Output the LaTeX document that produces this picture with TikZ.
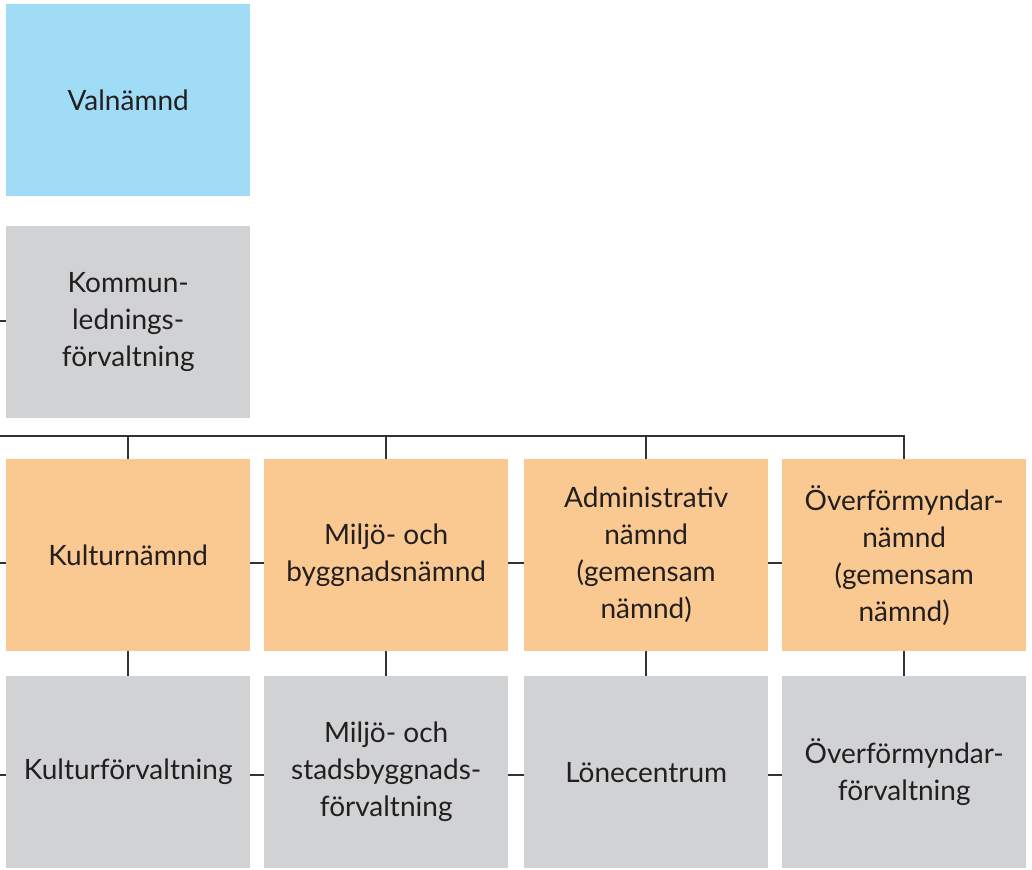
\documentclass[tikz,border=0pt]{standalone}
\usepackage{fontspec}
\setmainfont{Lato}
\definecolor{valblue}{HTML}{A0DCF6}
\definecolor{forvgray}{HTML}{D1D2D4}
\definecolor{namndorange}{HTML}{FAC991}
\definecolor{textgray}{HTML}{231F20}
\definecolor{linegray}{HTML}{333333}
\begin{document}
\begin{tikzpicture}[x=1pt,y=-1pt,
				every node/.style={anchor=north west,minimum width=244pt,minimum height=192pt,
					inner sep=0pt,align=center,text=textgray,font=\fontsize{28}{37}\selectfont},
				val/.style={fill=valblue},
				forv/.style={fill=forvgray},
				namnd/.style={fill=namndorange},
				conn/.style={draw=linegray,line width=1.8pt}]
\useasboundingbox (0,0) rectangle (1032,869);
% top column
\node[val] (valn) at (6,4) {Valnämnd};
\node[forv] (klf) at (6,226) {Kommun-\\lednings-\\förvaltning};
% boards
\node[namnd] (kn) at (6,459) {Kulturnämnd};
\node[namnd] (mbn) at (264,459) {Miljö- och\\byggnadsnämnd};
\node[namnd] (adn) at (524,459) {Administrativ\\nämnd\\(gemensam\\nämnd)};
\node[namnd] (ofn) at (782,459) {Överförmyndar-\\nämnd\\(gemensam\\nämnd)};
% offices
\node[forv] (kf) at (6,676) {Kulturförvaltning};
\node[forv] (msf) at (264,676) {Miljö- och\\stadsbyggnads-\\förvaltning};
\node[forv] (lc) at (524,676) {Lönecentrum};
\node[forv] (off) at (782,676) {Överförmyndar-\\förvaltning};
% connectors
\coordinate (klin) at (0,321);
\coordinate (bus) at (0,436);
\coordinate (nrow) at (0,563);
\coordinate (frow) at (0,775);
\draw[conn] (klin) -- (klin -| klf.west);
\draw[conn] (bus) -- (ofn.north |- bus) -- (ofn.north);
\foreach \n in {kn,mbn,adn}
	\draw[conn] (\n.north |- bus) -- (\n.north);
\foreach \a/\b in {kn/kf,mbn/msf,adn/lc,ofn/off}
	\draw[conn] (\a.south) -- (\b.north);
\draw[conn] (nrow) -- (nrow -| kn.west);
\draw[conn] (frow) -- (frow -| kf.west);
\foreach \a/\b in {kn/mbn,mbn/adn,adn/ofn}
	\draw[conn] (\a.east |- nrow) -- (\b.west |- nrow);
\foreach \a/\b in {kf/msf,msf/lc,lc/off}
	\draw[conn] (\a.east |- frow) -- (\b.west |- frow);
\end{tikzpicture}
\end{document}
